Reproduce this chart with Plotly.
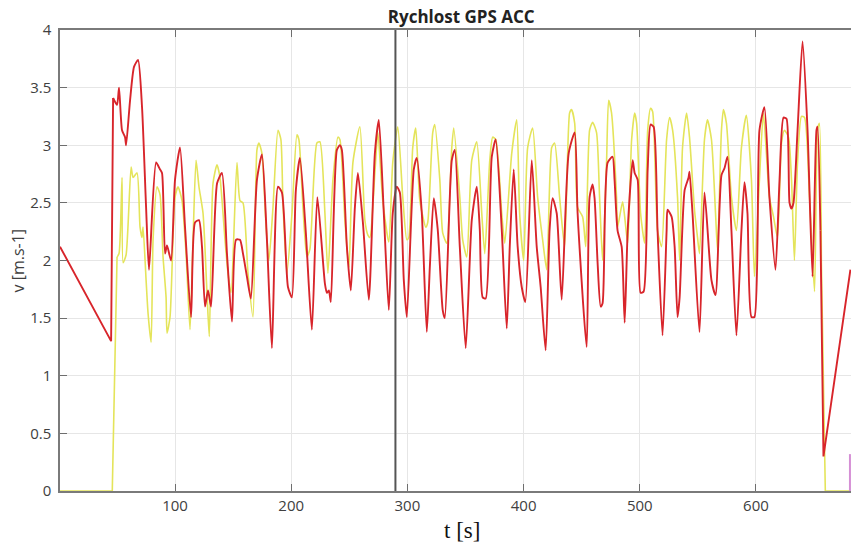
import plotly.graph_objects as go

# ---- data ----
red_t = [1, 45, 46.7, 50.1, 51.8, 54.4, 57, 57.9, 61.3, 64.7, 68.2, 71.6, 75.1, 77.6,
         83.7, 87.1, 88.8, 91.4, 93.1, 96.6, 100, 104.3, 108.6, 113.8, 117.2, 120.6, 123.2,
         125.8, 128.4, 131, 136.2, 140.4, 144.7, 149, 152.5, 155.9, 158.5, 161.9, 165.3,
         170.5, 174.8, 179.1, 183.4, 188.6, 192, 197.2, 200.6, 204, 207.5, 212.6, 217.8,
         222.5, 229, 230.7, 232.4, 234.1, 239.3, 241.9, 243.6, 247.9, 251.3, 254.8, 257.4,
         261.7, 266.8, 272, 275.4, 279.7, 284, 287.4, 290.9, 293.5, 296.9, 299.5, 305.5,
         308.1, 312.4, 316.7, 319.3, 322.7, 326.1, 330.4, 332.2, 338.2, 340.8, 345.1, 350.2,
         355.4, 359.7, 362.3, 364.8, 367.4, 372.6, 376, 381.2, 385.5, 388.1, 391.5, 394.9,
         398.4, 401.5, 407, 411.3, 414.7, 419, 422.4, 425, 428.5, 432.8, 438.8, 444, 446.5,
         454.3, 456.8, 459.4, 461.1, 463.7, 466.3, 468, 472.3, 476.6, 478.3, 480.9, 484.4,
         487, 489.6, 493.9, 495.6, 498.2, 500.7, 503.3, 506.8, 509.3, 511.9, 515.3, 519.6,
         523.1, 523.9, 527.4, 530, 532.5, 534.3, 538.6, 542, 542.8, 545.4, 551.4, 555.7,
         561.7, 565.2, 570.3, 572.9, 575.5, 578.9, 583.2, 587.5, 590.1, 592.7, 596.1, 598.7,
         603, 607.3, 611.6, 616.8, 620.3, 623.7, 626.3, 628.9, 630.6, 632.3, 635.8, 640.1,
         644.4, 648.7, 652.1, 653, 655.5, 658.1, 681.3]
red_v = [2.12, 1.30, 3.41, 3.35, 3.50, 3.13, 3.07, 3.00, 3.39, 3.68, 3.74, 3.33, 2.46, 1.92,
         2.85, 2.79, 2.76, 2.06, 2.13, 2.00, 2.70, 2.98, 2.29, 1.51, 2.33, 2.35, 2.12,
         1.60, 1.74, 1.60, 2.67, 2.76, 2.06, 1.47, 2.18, 2.18, 2.06, 1.86, 1.67,
         2.70, 2.92, 2.18, 1.24, 2.64, 2.59, 1.77, 1.68, 2.61, 2.89, 2.24, 1.40,
         2.55, 1.80, 1.72, 1.74, 1.64, 2.96, 3.00, 2.96, 2.12, 1.74, 2.46, 2.76,
         2.33, 1.66, 2.93, 3.22, 2.41, 1.57, 2.41, 2.64, 2.59, 1.83, 1.51, 2.79,
         2.89, 2.41, 1.38, 1.94, 2.54, 2.27, 1.57, 1.50, 2.87, 2.96, 2.12, 1.24,
         2.35, 2.64, 2.27, 1.68, 1.67, 2.90, 3.05, 2.27, 1.41, 2.12, 2.79, 2.12,
         1.77, 1.64, 2.87, 2.12, 1.77, 1.22, 2.27, 2.54, 2.41, 1.66, 2.93, 3.11, 2.41,
         1.25, 2.55, 2.66, 2.54, 1.98, 1.60, 1.63, 2.85, 2.90, 2.70, 2.26, 2.12,
         1.46, 2.26, 2.87, 2.76, 2.70, 1.72, 1.73, 2.79, 3.18, 3.16, 2.26, 1.35,
         2.26, 2.44, 2.38, 2.12, 1.51, 1.68, 2.61, 2.72, 2.77, 2.41, 1.38, 2.59,
         1.83, 1.70, 2.74, 2.80, 2.90, 2.26, 1.35, 2.26, 2.68, 2.41, 1.51, 1.51,
         3.13, 3.33, 2.55, 1.92, 2.70, 3.24, 3.23, 2.50, 2.45, 2.50, 3.13, 3.90,
         3.13, 1.86, 3.13, 3.16, 2.26, 0.30, 1.92]

yel_t = [1, 46.0, 50.1, 51.8, 54.4, 55.3, 57.9, 62.2, 63.9, 67.3, 69.9, 71.6, 72.5, 75.1,
         76.8, 79.4, 81.1, 84.5, 87.1, 89.7, 92.3, 93.1, 95.7, 100, 102.6, 106, 109.5,
         112.9, 115.5, 118.1, 120.6, 124.1, 127.5, 129.5, 132.7, 136.1, 138.7, 143, 145.6,
         148.2, 153.3, 155.9, 158.5, 162.8, 167.1, 170.5, 172.2, 174.8, 178.2, 180.8, 184.3,
         188.6, 191.1, 192.9, 196.3, 200.6, 204.9, 206.6, 210.1, 213.5, 216.1, 222.1, 224.7,
         229, 231.6, 235.9, 240.2, 241.9, 246.2, 249.7, 253.1, 259.1, 263.4, 266, 267.7,
         272, 274.6, 278.8, 284, 287.4, 291.7, 296, 299.5, 301.2, 304.6, 307.2, 310.7,
         315.8, 317.5, 321.8, 323.6, 327.9, 330.4, 333.9, 338.2, 339.9, 345.1, 347.6, 351.1,
         355.4, 359.7, 364, 366.6, 370.9, 373.4, 376, 381.2, 383.8, 389.8, 394.1, 396.6,
         400.1, 403.5, 407.8, 412.1, 416.4, 419.9, 424.2, 426.7, 431, 435.3, 439.6, 441.3,
         444, 446.5, 450.8, 453.5, 456.8, 459.4, 462.8, 465.4, 468, 471.4, 473.2, 475.7,
         480, 480.9, 485.2, 487, 489.6, 493, 495.6, 497.3, 500.7, 504.2, 506.8, 509.3,
         511.1, 515.3, 518.8, 523.1, 525.7, 528.3, 532.5, 534.3, 536.8, 540.3, 542.8, 547.1,
         549.7, 551.4, 555.7, 558.3, 561.7, 565.2, 566.9, 570.3, 572, 574.6, 578.9, 583.2,
         587.5, 591.7, 596.1, 598.7, 603, 606.4, 611.6, 615.1, 618.5, 622, 624.5, 628,
         630.6, 633.1, 635.8, 639.2, 641.8, 646.1, 650.4, 653, 654.6, 656.3, 658.9, 659.7,
         681.3]
yel_v = [0, 0, 2.03, 2.06, 2.72, 1.98, 2.05, 2.81, 2.72, 2.76, 2.29, 2.20, 2.29, 1.83,
         1.54, 1.29, 2.18, 2.64, 2.57, 2.03, 1.68, 1.37, 1.51, 2.55, 2.64, 2.52, 2.06,
         1.40, 2.18, 2.87, 2.64, 2.41, 1.72, 1.34, 2.67, 2.83, 2.72, 2.18, 1.89,
         1.72, 2.85, 2.52, 2.50, 1.89, 1.51, 2.96, 3.02, 2.93, 2.33, 2.00, 2.46,
         3.13, 3.05, 2.50, 1.89, 2.40, 3.09, 3.05, 2.46, 2.03, 2.10, 3.02, 3.03,
         2.41, 1.89, 2.70, 3.07, 3.05, 2.35, 1.94, 2.85, 3.16, 2.35, 2.22, 2.20,
         2.76, 3.11, 2.52, 2.16, 2.85, 3.16, 2.55, 2.18, 2.20, 2.98, 3.15, 2.52,
         2.29, 2.33, 3.11, 3.18, 2.70, 2.24, 2.15, 2.98, 3.15, 2.55, 2.18, 2.03,
         2.87, 3.03, 2.41, 2.06, 2.87, 3.07, 3.05, 2.41, 2.15, 2.93, 3.22, 2.41,
         2.00, 2.98, 3.15, 2.55, 2.18, 1.92, 2.98, 3.02, 2.55, 2.12, 3.28, 3.31,
         3.19, 2.46, 2.38, 2.12, 3.13, 3.20, 3.11, 2.55, 2.00, 2.85, 3.39, 3.28,
         2.55, 2.29, 2.51, 2.38, 2.15, 3.05, 3.28, 3.19, 2.41, 2.15, 3.13, 3.32,
         3.29, 2.26, 2.12, 3.05, 3.24, 3.13, 2.55, 2.00, 2.98, 3.28, 3.07, 2.44,
         2.20, 2.06, 3.05, 3.22, 3.05, 2.41, 2.09, 3.13, 3.31, 3.19, 2.55, 2.26,
         2.98, 3.26, 2.70, 1.86, 2.70, 3.28, 2.55, 2.38, 2.20, 3.02, 3.13, 3.07,
         2.70, 2.00, 2.85, 3.25, 3.24, 2.55, 1.73, 3.13, 3.19, 1.98, 0.24, 0,
         0]

marker_t = [289.7, 289.7]
marker_v = [0, 4]

purple_t = [680.9, 680.9]
purple_v = [0, 0.32]

x_ticks = [100, 200, 300, 400, 500, 600]
y_ticks = [0, 0.5, 1, 1.5, 2, 2.5, 3, 3.5, 4]
y_tick_text = ["0", "0.5", "1", "1.5", "2", "2.5", "3", "3.5", "4"]

RED = "#d8252b"
YEL = "#e4e45a"

fig = go.Figure()


def add_series(t, v, color, width, head, tail):
    """Straight segments at the sharp ends, smoothed line in between."""
    fig.add_trace(go.Scatter(x=t[:head + 1], y=v[:head + 1], mode="lines",
                             line=dict(color=color, width=width), showlegend=False))
    fig.add_trace(go.Scatter(x=t[head:len(t) - tail], y=v[head:len(v) - tail], mode="lines",
                             line=dict(color=color, width=width, shape="spline", smoothing=0.6),
                             showlegend=False))
    fig.add_trace(go.Scatter(x=t[len(t) - tail - 1:], y=v[len(v) - tail - 1:], mode="lines",
                             line=dict(color=color, width=width), showlegend=False))


add_series(yel_t, yel_v, YEL, 1.6, head=2, tail=3)
add_series(red_t, red_v, RED, 1.9, head=2, tail=2)

fig.add_trace(go.Scatter(x=marker_t, y=marker_v, mode="lines",
                         line=dict(color="#555555", width=2), showlegend=False))
fig.add_trace(go.Scatter(x=purple_t, y=purple_v, mode="lines",
                         line=dict(color="#d58fd5", width=2), showlegend=False))

tick_font = dict(family="Open Sans, sans-serif", size=15, color="#404040")

fig.update_layout(
    width=851, height=542,
    margin=dict(l=60, r=0, t=30, b=51),
    paper_bgcolor="white", plot_bgcolor="white",
    title=dict(text="<b>Rychlost GPS ACC</b>", x=0.542, xanchor="center",
               y=1 - 17 / 542, yanchor="middle", yref="container",
               font=dict(family="Open Sans, sans-serif", size=17, color="#222222")),
    xaxis=dict(range=[1, 681.8], tickvals=x_ticks, ticks="inside", ticklen=7,
               tickcolor="#6e6e6e", showline=True, linecolor="#7a7a7a", linewidth=1.5,
               mirror="ticks", showgrid=True, gridcolor="#e6e6e6", gridwidth=1,
               zeroline=False, tickfont=tick_font),
    yaxis=dict(range=[0, 4], tickvals=y_ticks, ticktext=y_tick_text, ticks="inside",
               ticklen=7, tickcolor="#6e6e6e", showline=True, linecolor="#7a7a7a",
               linewidth=1.5, showgrid=True, gridcolor="#e6e6e6", gridwidth=1,
               zeroline=False, tickfont=tick_font, ticklabelstandoff=4),
    annotations=[
        dict(text="t [s]", xref="paper", yref="paper", x=0.508, y=-39 / 461,
             xanchor="center", yanchor="middle", showarrow=False,
             font=dict(family="Liberation Serif", size=23, color="#111111")),
        dict(text="v [m.s-1]", xref="paper", yref="paper", x=-43 / 791, y=0.5,
             xanchor="center", yanchor="middle", showarrow=False, textangle=-90,
             font=dict(family="Open Sans, sans-serif", size=16, color="#404040")),
    ],
)

fig.write_html(
    "out.html",
    config={"displayModeBar": False},
    post_script="document.body.style.margin='0';document.body.style.overflow='hidden';",
)
